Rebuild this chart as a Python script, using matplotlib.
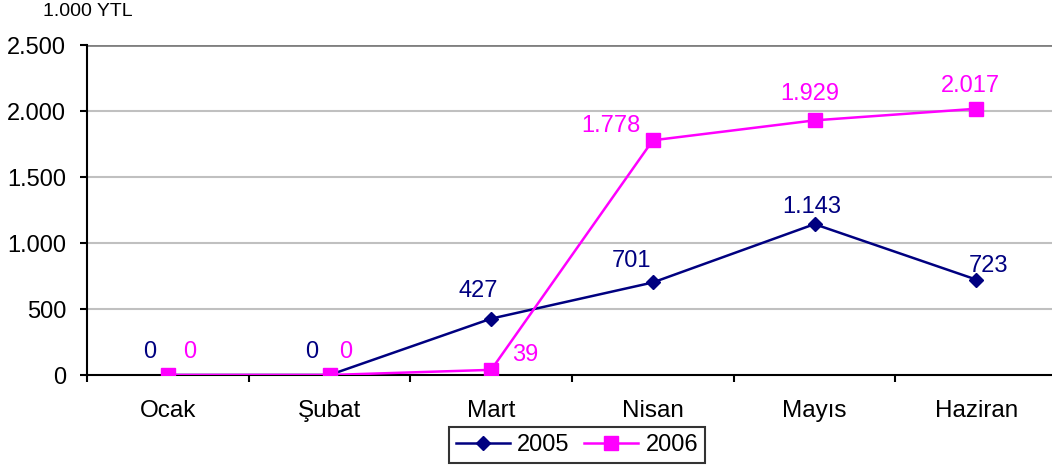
import matplotlib.pyplot as plt
import numpy as np
from matplotlib.ticker import FuncFormatter

months = ["Ocak", "Şubat", "Mart", "Nisan", "Mayıs", "Haziran"]
y2005 = [0, 0, 427, 701, 1143, 723]
y2006 = [0, 0, 39, 1778, 1929, 2017]

# data label offsets in pixels (label centre relative to the point)
off2005 = [(-18, 23), (-18, 23), (-13, 28), (-21, 21), (-3, 17), (12, 14)]
off2006 = [(22, 23), (16, 23), (34, 15), (-42, 14), (-5, 26), (-6, 23)]

navy = "#000080"
magenta = "#FF00FF"

def fmt(v):
    return f"{v:,.0f}".replace(",", ".")

plt.rcParams["font.family"] = ["Liberation Sans", "DejaVu Sans"]

fig = plt.figure(figsize=(10.52, 4.71), dpi=100)
# plot area runs a little past the right edge of the picture
ax = fig.add_axes([87 / 1052, 1 - 375 / 471, 970 / 1052, 330 / 471])

x = np.arange(len(months))
ax.plot(x, y2005, color=navy, lw=1.8, marker="D", ms=7.5, label="2005", zorder=3)
ax.plot(x, y2006, color=magenta, lw=1.8, marker="s", ms=10.5, label="2006", zorder=4)

for i in range(len(months)):
    ax.annotate(fmt(y2005[i]), (x[i], y2005[i]), xytext=off2005[i],
                textcoords="offset pixels", ha="center", va="center",
                color=navy, fontsize=17)
    ax.annotate(fmt(y2006[i]), (x[i], y2006[i]), xytext=off2006[i],
                textcoords="offset pixels", ha="center", va="center",
                color=magenta, fontsize=17)

ax.set_xlim(-0.5, len(months) - 0.5)
ax.set_ylim(0, 2500)
ax.set_yticks(np.arange(0, 2501, 500))
ax.yaxis.set_major_formatter(FuncFormatter(lambda v, p: fmt(v)))
ax.set_xticks(x)
ax.set_xticklabels(months)
ax.set_xticks(np.arange(-0.5, len(months), 1), minor=True)
ax.tick_params(axis="x", which="major", length=0, pad=18, labelsize=17.5)
ax.tick_params(axis="x", which="minor", length=5, width=1.5, direction="out")
ax.tick_params(axis="y", length=5, width=1.5, labelsize=17, pad=10)

for v in np.arange(500, 2001, 500):
    ax.axhline(v, color="#c0c0c0", lw=1.5, zorder=1)
ax.axhline(2500, color="#808080", lw=2, zorder=1)

ax.spines["right"].set_visible(False)
ax.spines["top"].set_visible(False)
ax.spines["left"].set_linewidth(1.5)
ax.spines["bottom"].set_linewidth(1.5)

fig.text(43 / 1052, 1 - 12 / 471, "1.000 YTL", fontsize=14, va="center", ha="left")

leg = fig.legend(loc="center", bbox_to_anchor=(577 / 1052, 1 - 445 / 471), ncol=2,
                 frameon=True, fancybox=False, edgecolor="black", fontsize=17,
                 handlelength=2.3, columnspacing=0.6, handletextpad=0.3,
                 borderpad=0.3, borderaxespad=0)
leg.get_frame().set_linewidth(1.5)

fig.savefig("out.png", dpi=100)
